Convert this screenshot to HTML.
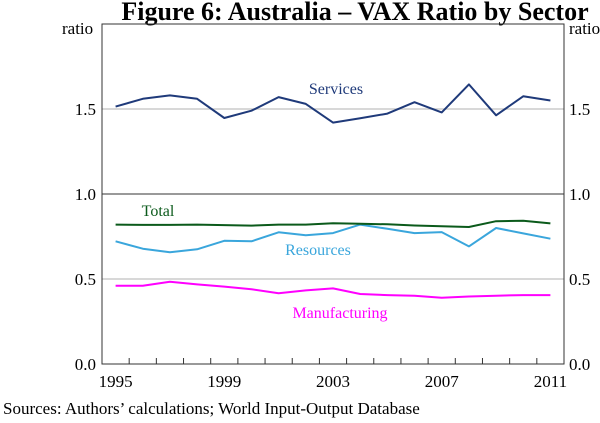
<!DOCTYPE html>
<html><head><meta charset="utf-8"><style>
body{margin:0;background:#fff;}
svg text{font-family:"Liberation Serif",serif;}
</style></head><body>
<svg id="chart" width="600" height="418" xmlns="http://www.w3.org/2000/svg">
<text x="355" y="20" text-anchor="middle" font-size="26" font-weight="bold" fill="#000">Figure 6: Australia – VAX Ratio by Sector</text>
<text x="62" y="34" font-size="17" fill="#000">ratio</text>
<text x="569" y="34" font-size="17" fill="#000">ratio</text>
<g id="grid"></g>
<g id="series"></g>
<rect x="102" y="24" width="462" height="340" fill="none" stroke="#333" stroke-width="1"/>
<g id="axes"></g>
<text x="3" y="414" font-size="17" fill="#000">Sources:  Authors’ calculations; World Input-Output Database</text>
</svg>
<script>
const years = [1995,1996,1997,1998,1999,2000,2001,2002,2003,2004,2005,2006,2007,2008,2009,2010,2011];
const services = [1.514,1.56,1.58,1.56,1.447,1.49,1.57,1.53,1.42,1.445,1.473,1.54,1.48,1.645,1.463,1.575,1.55];
const total = [0.82,0.818,0.818,0.82,0.817,0.814,0.82,0.82,0.828,0.825,0.822,0.815,0.81,0.806,0.84,0.843,0.827];
const resources = [0.722,0.678,0.657,0.675,0.725,0.722,0.775,0.757,0.77,0.82,0.795,0.77,0.776,0.692,0.8,0.768,0.737];
const manufacturing = [0.46,0.46,0.484,0.468,0.455,0.44,0.416,0.433,0.445,0.412,0.405,0.402,0.39,0.397,0.402,0.405,0.405];
const yTicks = [0.0,0.5,1.0,1.5];
const yTickLabels = ["0.0","0.5","1.0","1.5"];
const xTickLabels = [1995,1999,2003,2007,2011];

const NS="http://www.w3.org/2000/svg";
const X0=102,X1=564,Y0=364,Y1=24;
function xs(yr){return X0+(yr-1994.5)/(2011.5-1994.5)*(X1-X0);}
function ys(v){return Y0-v/2*(Y0-Y1);}
function mk(tag,attrs,parent){const e=document.createElementNS(NS,tag);for(const k in attrs)e.setAttribute(k,attrs[k]);parent.appendChild(e);return e;}
const grid=document.getElementById('grid'),axes=document.getElementById('axes'),ser=document.getElementById('series');
yTicks.forEach((v,i)=>{
  const y=ys(v);
  if(v>0){
    const l=mk('line',{x1:X0,x2:X1,y1:y,y2:y,stroke:v===1?'#333':'#ccc','stroke-width':v===1?1:1.5},grid);
    
    
  }
  const t1=mk('text',{x:X0-6,y:y+6,'text-anchor':'end','font-size':17},axes);
  t1.textContent=yTickLabels[i];
  
  
  const t2=mk('text',{x:X1+5,y:y+6,'font-size':17},axes);
  t2.textContent=yTickLabels[i];
  
  
});
for(let k=1;k<years.length;k++){
  const x=xs(years[k]-0.5);
  const t=mk('line',{x1:x,x2:x,y1:Y0,y2:Y0-6,stroke:'#333'},axes);
  
  
}
xTickLabels.forEach(yr=>{
  const t=mk('text',{x:xs(yr),y:387,'text-anchor':'middle','font-size':17},axes);
  t.textContent=yr;
  
  
});
function line(vals,color,name){
  const d=vals.map((v,i)=>(i?'L':'M')+xs(years[i]).toFixed(1)+','+ys(v).toFixed(1)).join(' ');
  const p=mk('path',{d:d,fill:'none',stroke:color,'stroke-width':2,'stroke-linejoin':'round'},ser);
  
  
}
line(services,'#1f3a7a','services-line');
line(resources,'#3aa6dc','resources-line');
line(total,'#0b5a1b','total-line');
line(manufacturing,'#ff00ff','manufacturing-line');
const labs=[["Services",336,94,'#1f3a7a','services-label'],["Total",158,216,'#0b5a1b','total-label'],["Resources",318,255,'#3aa6dc','resources-label'],["Manufacturing",340,318,'#ff00ff','manufacturing-label']];
labs.forEach(l=>{
  const t=mk('text',{x:l[1],y:l[2],'text-anchor':'middle','font-size':16,fill:l[3]},ser);
  t.textContent=l[0];
  
  
});
</script>
</body></html>
